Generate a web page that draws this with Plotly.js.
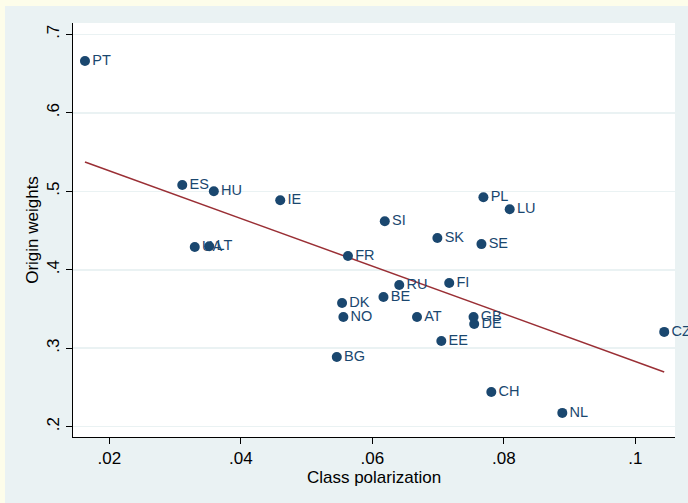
<!DOCTYPE html>
<html>
<head>
<meta charset="utf-8">
<script src="https://cdn.plot.ly/plotly-3.0.1.min.js"></script>
<style>
  html, body { margin: 0; padding: 0; background: #fdfdea; width: 688px; height: 503px; overflow: hidden; }
  #chart { position: absolute; left: 5px; top: 6px; width: 683px; height: 497px; }
</style>
</head>
<body>
<div id="chart"></div>
<script>
// Countries
const countries = ["PT","ES","HU","IE","UA","LT","SI","PL","LU","SK","SE","FR","RU","FI","DK","BE","NO","AT","GB","DE","EE","BG","CZ","CH","NL"];
// Class polarization (x)
const classPolarization = [0.0163,0.0311,0.0359,0.0460,0.0330,0.0352,0.0619,0.0769,0.0809,0.0699,0.0766,0.0563,0.0641,0.0717,0.0554,0.0617,0.0556,0.0668,0.0754,0.0755,0.0705,0.0546,0.1044,0.0781,0.0889];
// Origin weights (y)
const originWeights = [0.666,0.508,0.500,0.4885,0.429,0.430,0.4618,0.4924,0.4771,0.4404,0.4327,0.4175,0.3805,0.3831,0.3576,0.3652,0.3397,0.3397,0.3397,0.3308,0.3093,0.2889,0.3208,0.2443,0.2176];
// Linear fit endpoints
const fitX = [0.0163, 0.1044];
const fitY = [0.5373, 0.2698];
// Axis ticks
const xTickVals = [0.02, 0.04, 0.06, 0.08, 0.1];
const xTickText = [".02", ".04", ".06", ".08", ".1"];
const yTickVals = [0.2, 0.3, 0.4, 0.5, 0.6, 0.7];
const yTickText = [".2", ".3", ".4", ".5", ".6", ".7"];

const navy = "#1a476f";
const traces = [
  {
    x: fitX, y: fitY, type: "scatter", mode: "lines",
    line: { color: "#9a2f35", width: 1.5 },
    hoverinfo: "skip", showlegend: false
  },
  {
    x: classPolarization, y: originWeights, text: countries,
    type: "scatter", mode: "markers+text", textposition: "middle right",
    cliponaxis: false,
    marker: { color: navy, size: 10 },
    textfont: { family: "Liberation Sans, Arial, sans-serif", size: 14.5, color: navy },
    hoverinfo: "skip", showlegend: false
  }
];

const layout = {
  width: 683, height: 497,
  margin: { l: 68, r: 13, t: 17, b: 66 },
  paper_bgcolor: "#eaf2f3",
  plot_bgcolor: "#ffffff",
  font: { family: "Liberation Sans, Arial, sans-serif", color: "#000000" },
  showlegend: false,
  xaxis: {
    range: [0.01448, 0.10604],
    tickvals: xTickVals, ticktext: xTickText,
    ticks: "outside", ticklen: 6, tickcolor: "#000000", tickwidth: 1,
    showline: true, linecolor: "#000000", linewidth: 1,
    showgrid: false, zeroline: false,
    tickfont: { size: 17, color: "#000000" },
    title: { text: "Class polarization", font: { size: 17, color: "#000000" }, standoff: 0 }
  },
  yaxis: {
    range: [0.1869, 0.7144],
    tickvals: yTickVals, ticktext: yTickText,
    tickangle: -90,
    ticks: "outside", ticklen: 6, tickcolor: "#000000", tickwidth: 1,
    showline: true, linecolor: "#000000", linewidth: 1,
    showgrid: true, gridcolor: "#eaf2f3", gridwidth: 1.5,
    zeroline: false,
    tickfont: { size: 17, color: "#000000" },
    title: { text: "Origin weights", font: { size: 17, color: "#000000" }, standoff: 1 }
  }
};

Plotly.newPlot("chart", traces, layout, { staticPlot: true, displayModeBar: false });
</script>
</body>
</html>
